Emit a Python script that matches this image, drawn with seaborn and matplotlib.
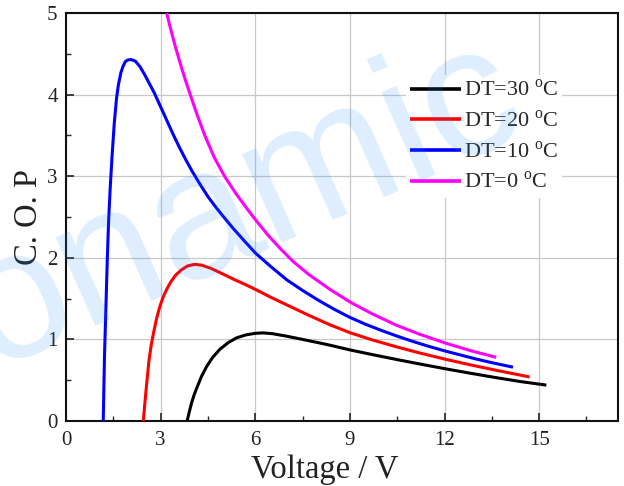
import numpy as np
import pandas as pd
import matplotlib
matplotlib.use("Agg")
import matplotlib.pyplot as plt
import seaborn as sns
from matplotlib.ticker import MultipleLocator

# COP vs. supply voltage for four temperature differences
v_dt30 = [3.84, 3.90, 3.98, 4.06, 4.15, 4.30, 4.46, 4.65, 4.88, 5.14, 5.41, 5.70,
          6.00, 6.25, 6.55, 6.99, 7.50, 8.00, 8.36, 9.02, 9.70, 10.47, 11.20,
          12.03, 12.80, 13.60, 14.40, 15.23]
cop_dt30 = [0.00, 0.10, 0.22, 0.32, 0.41, 0.55, 0.67, 0.78, 0.88, 0.96, 1.02, 1.055,
            1.075, 1.08, 1.07, 1.04, 1.00, 0.96, 0.93, 0.87, 0.815, 0.755, 0.70,
            0.64, 0.587, 0.534, 0.484, 0.44]

v_dt20 = [2.45, 2.50, 2.56, 2.63, 2.70, 2.78, 2.88, 2.98, 3.08, 3.20, 3.33, 3.48,
          3.65, 3.85, 4.08, 4.30, 4.60, 4.93, 5.30, 5.70, 6.02, 6.50, 7.10, 7.70,
          8.36, 9.02, 9.70, 10.47, 11.20, 12.03, 12.80, 13.70, 14.70]
cop_dt20 = [0.00, 0.22, 0.47, 0.74, 0.93, 1.09, 1.27, 1.41, 1.52, 1.62, 1.71, 1.79,
            1.85, 1.90, 1.92, 1.91, 1.87, 1.81, 1.74, 1.67, 1.61, 1.515, 1.405, 1.295,
            1.18, 1.08, 0.995, 0.91, 0.835, 0.757, 0.69, 0.617, 0.54]

v_dt10 = [1.18, 1.20, 1.22, 1.25, 1.28, 1.31, 1.35, 1.40, 1.46, 1.53, 1.60, 1.66,
          1.74, 1.81, 1.88, 1.96, 2.06, 2.20, 2.35, 2.50, 2.65, 2.80, 3.00, 3.20,
          3.40, 3.60, 3.80, 4.00, 4.25, 4.50, 4.75, 5.00, 5.30, 5.60, 6.00, 6.50,
          7.00, 7.50, 8.00, 8.50, 9.00, 9.50, 10.00, 10.50, 11.00, 11.50, 12.00,
          12.50, 13.00, 13.50, 14.17]
cop_dt10 = [0.00, 0.40, 0.80, 1.20, 1.60, 2.00, 2.45, 2.85, 3.25, 3.65, 3.95, 4.12,
            4.27, 4.35, 4.405, 4.425, 4.43, 4.41, 4.34, 4.24, 4.13, 4.02, 3.85, 3.68,
            3.51, 3.35, 3.20, 3.06, 2.90, 2.75, 2.62, 2.50, 2.36, 2.23, 2.06, 1.89,
            1.73, 1.60, 1.48, 1.37, 1.27, 1.185, 1.11, 1.04, 0.975, 0.915, 0.86,
            0.81, 0.76, 0.715, 0.66]

v_dt0 = [3.19, 3.30, 3.45, 3.60, 3.75, 3.93, 4.15, 4.40, 4.70, 5.04, 5.40, 5.80,
         6.00, 6.40, 6.80, 7.20, 7.70, 8.36, 9.02, 9.70, 10.47, 11.20, 12.03,
         12.80, 13.64]
cop_dt0 = [5.00, 4.83, 4.61, 4.41, 4.22, 4.01, 3.76, 3.50, 3.23, 2.99, 2.78, 2.57,
           2.47, 2.28, 2.11, 1.955, 1.795, 1.615, 1.455, 1.315, 1.175, 1.065, 0.955,
           0.865, 0.78]

series_labels = ["DT=30 $^\\mathregular{o}$C", "DT=20 $^\\mathregular{o}$C",
                 "DT=10 $^\\mathregular{o}$C", "DT=0 $^\\mathregular{o}$C"]
series_colors = ["#000000", "#ff0000", "#0000ff", "#ff00ff"]

x_ticks = [0, 3, 6, 9, 12, 15]
y_ticks = [0, 1, 2, 3, 4, 5]

frames = []
for lab, v, c in zip(series_labels,
                     [v_dt30, v_dt20, v_dt10, v_dt0],
                     [cop_dt30, cop_dt20, cop_dt10, cop_dt0]):
    frames.append(pd.DataFrame({"Voltage": v, "COP": c, "series": lab}))
df = pd.concat(frames, ignore_index=True)

sns.set_style("ticks")
plt.rcParams["font.family"] = ["Liberation Serif", "DejaVu Serif"]
plt.rcParams["mathtext.fontset"] = "custom"
plt.rcParams["mathtext.rm"] = "Liberation Serif"
plt.rcParams["lines.solid_joinstyle"] = "round"
plt.rcParams["lines.solid_capstyle"] = "butt"

fig = plt.figure(figsize=(6.24, 4.86), dpi=100)
ax = fig.add_axes([0.1058, 0.1337, 0.8846, 0.8395])

sns.lineplot(data=df, x="Voltage", y="COP", hue="series", hue_order=series_labels,
             palette=dict(zip(series_labels, series_colors)), sort=False,
             estimator=None, units="series", linewidth=2.2, ax=ax, zorder=3)

ax.set_xlim(0, 17.5)
ax.set_ylim(0, 5)
ax.set_xticks(x_ticks)
ax.set_yticks(y_ticks)
ax.xaxis.set_minor_locator(MultipleLocator(1.5))
ax.yaxis.set_minor_locator(MultipleLocator(0.5))
ax.tick_params(which="major", direction="in", length=6, width=1.2, labelsize=15,
               colors="#222222", bottom=True, left=True, top=False, right=False)
ax.tick_params(axis="x", which="major", pad=7)
ax.tick_params(axis="y", which="major", pad=6)
ax.tick_params(which="minor", direction="in", length=3.5, width=1.0,
               bottom=True, left=True, top=False, right=False)
ax.grid(True, which="major", color="#c8c8c8", linewidth=0.9, zorder=0)
ax.set_axisbelow(True)
for s in ax.spines.values():
    s.set_linewidth(1.5)
    s.set_color("#111111")

ax.set_xlabel("Voltage / V", fontsize=23.5, color="#222222", labelpad=2)
ax.xaxis.set_label_coords(0.469, -0.083)
ax.set_ylabel("C. O. P", fontsize=23.5, color="#222222", labelpad=0)
ax.yaxis.set_label_coords(-0.04, 0.5)

handles, labels = ax.get_legend_handles_labels()
leg = ax.legend(handles, labels, loc="upper left", bbox_to_anchor=(0.6156, 0.847),
                frameon=True, fontsize=16, handlelength=2.3, handletextpad=0.1,
                labelspacing=0.42, borderpad=0.2, borderaxespad=0)
leg.get_frame().set_edgecolor("none")
leg.get_frame().set_facecolor("white")
leg.get_frame().set_alpha(1)
for line in leg.get_lines():
    line.set_linewidth(2.6)

fig.text(-0.015, 0.24, "onamic", fontsize=132, family="Liberation Sans",
         color="#1e90ff", alpha=0.15, rotation=24, rotation_mode="anchor",
         ha="left", va="baseline", zorder=10)

fig.savefig("out.png", dpi=100)
